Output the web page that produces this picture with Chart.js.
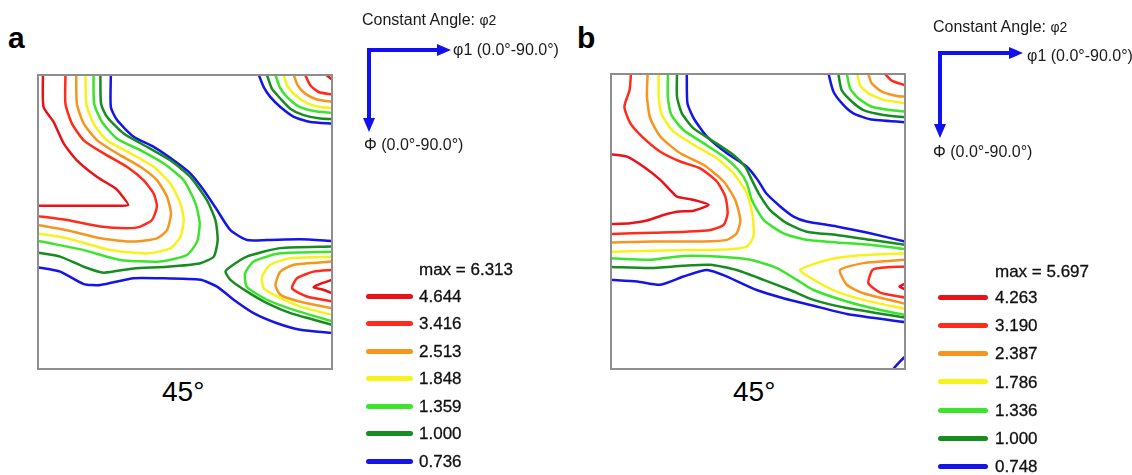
<!DOCTYPE html>
<html lang="en">
<head>
    <meta charset="UTF-8">
    <title>ODF sections - phi2 = 45</title>
    <script src="https://cdn.jsdelivr.net/npm/chart.js"></script>
    <style>
        body { margin: 0; background: #fff; font-family: "Liberation Sans", Arial, sans-serif; color: #111; }
        #page { position: relative; width: 1132px; height: 475px; overflow: hidden; }
        .box { position: absolute; }
        .txt { position: absolute; white-space: nowrap; line-height: 1; }
        .panel-tag { font-size: 30px; font-weight: bold; color: #000; }
        .angle { font-size: 28px; color: #000; }
        .axis-txt { font-size: 16px; color: #1a1a1a; }
        .leg-line { position: absolute; height: 5px; border-radius: 3px; }
        .leg-txt { font-size: 17px; color: #111; -webkit-text-stroke: 0.3px #111; }
        svg { position: absolute; left: 0; top: 0; }
    </style>
</head>
<body>
<div id="page">
    <div class="txt panel-tag" style="left:8px;top:23px;">a</div>
    <div class="txt panel-tag" style="left:577px;top:23px;">b</div>

    <div class="box" style="left:36px;top:73px;width:298px;height:298px;"><canvas id="chartA"></canvas></div>
    <div class="box" style="left:609px;top:72px;width:298px;height:299px;"><canvas id="chartB"></canvas></div>

    <div class="txt angle" style="left:162px;top:378px;">45°</div>
    <div class="txt angle" style="left:733px;top:378px;">45°</div>

    <svg width="1132" height="475">
        <g stroke="#1010f0" stroke-width="4" fill="#1010f0">
            <polyline points="438,50 369,50 369,119" fill="none"/>
            <polygon points="451,50 437,44 437,56" stroke="none"/>
            <polygon points="369,132 363,118 375,118" stroke="none"/>
            <polyline points="1010,53 940,53 940,124" fill="none"/>
            <polygon points="1023,53 1009,47 1009,59" stroke="none"/>
            <polygon points="940,138 934,124 946,124" stroke="none"/>
        </g>
    </svg>

    <div class="txt axis-txt" style="left:362px;top:12px;">Constant Angle: <span style="font-size:14px">φ2</span></div>
    <div class="txt axis-txt" style="left:453px;top:42px;">φ1 (0.0°-90.0°)</div>
    <div class="txt axis-txt" style="left:364px;top:137px;">Φ (0.0°-90.0°)</div>

    <div class="txt axis-txt" style="left:933px;top:19px;">Constant Angle: <span style="font-size:14px">φ2</span></div>
    <div class="txt axis-txt" style="left:1027px;top:48px;">φ1 (0.0°-90.0°)</div>
    <div class="txt axis-txt" style="left:933px;top:144px;">Φ (0.0°-90.0°)</div>

    <div id="legendA"></div>
    <div id="legendB"></div>
</div>

<script>
    // contour levels, highest first
    const levelsA = ['4.644', '3.416', '2.513', '1.848', '1.359', '1.000', '0.736'];
    const maxA = '6.313';
    const levelsB = ['4.263', '3.190', '2.387', '1.786', '1.336', '1.000', '0.748'];
    const maxB = '5.697';

    const levelColors = ['#e81218', '#ff2b1c', '#f7951f', '#f6f21a', '#3de42c', '#178c20', '#1515e8'];

    // ---- panel a : [phi1, PHI] in degrees ----
    const aL0_left = [[1.5,0],[1.7,9.8],[4.8,14.4],[7.9,21],[11.9,26.1],[18.1,31.2],[23.7,34.7],[25.2,36.3],[27.6,39.8],[22.1,40],[0,40]];
    const aL1_left = [[8.4,0],[8.4,8.8],[10.4,14.9],[14,20],[20.1,24],[27.2,28.1],[32.3,32.2],[35.4,36.3],[36.4,40.3],[34.9,44.4],[31.3,46.4],[27.2,46.9],[19.1,46.4],[8.9,44.4],[0,43.2]];
    const aL2_left = [[11.7,0],[11.9,8.8],[14,14.9],[18.1,20],[24.2,24],[31.3,28.1],[36.4,32.2],[39.5,37.3],[40.7,42.4],[39.5,47.5],[36.4,50],[29.3,51],[19.1,50],[8.9,47.5],[0,45.9]];
    const aL3_left = [[14.5,0],[14.8,8.8],[17,14.9],[21.1,20],[28.3,24],[35.4,28.1],[40.5,33.2],[43.6,39.3],[44.6,44.4],[43.6,49.5],[40.5,53.1],[33.4,54.6],[22.1,53.6],[8.9,50],[0,48.5]];
    const aL4_left = [[17,0],[17.2,8.8],[19.6,14.4],[24.2,19.5],[31.3,23],[38.5,27.1],[44.6,32.2],[48.2,39.3],[49.5,45.4],[48.7,51],[45.6,55.1],[37.4,57.1],[25.2,56.6],[14,53.6],[3.8,51.5],[0,50.8]];
    const aL5_left = [[19.1,0],[19.3,8.8],[21.1,12.8],[26.2,17.9],[33.4,22],[40.5,26.1],[46.6,31.2],[51.7,38.3],[54.3,44.4],[55,50.5],[53.8,55.6],[49.7,57.6],[39.5,58.7],[29.3,59.2],[20.1,60.5],[14,58.7],[6.8,55.6],[0,54.4]];
    const aL6_upper = [[22.3,0],[22.3,9.8],[24.2,13.8],[29.3,18.9],[35.4,22],[41.5,26.1],[46.6,30.1],[50.7,35.2],[54.8,41.3],[58.9,47.5],[64,50.5],[70.1,50.5],[80.3,50.3],[90,50.8]];
    const aL6_lower = [[0,58.9],[6.8,60.2],[14,64],[19.1,64.3],[29.3,62.2],[36.4,62.2],[49.7,62.7],[54.8,64.8],[59.9,68.8],[66,72.9],[73.2,76],[80.3,78],[90,79]];

    const aL5_right = [[90,52.5],[74.1,53],[63.9,55.6],[58.9,58.7],[57.4,60.2],[58.9,62.7],[64,66.3],[70.1,69.8],[77.3,72.9],[84.4,74.9],[90,76.5]];
    const aL4_right = [[90,54.1],[74.1,54.6],[66,57.1],[63.4,60.7],[63.9,64.8],[70.1,68.8],[78.3,71.9],[90,75.4]];
    const aL3_right = [[90,55.6],[77.2,56.1],[71.1,58.1],[68.6,61.7],[69.1,65.3],[73.2,67.8],[80.3,70.9],[90,73.4]];
    const aL2_right = [[90,57.1],[78.3,58.1],[74.2,60.2],[72.7,64.3],[74.2,67.3],[80.3,69.4],[90,71.4]];
    const aL1_right = [[90,59.7],[84.4,60.2],[79.3,62.2],[77.8,65.3],[82.3,67.8],[90,69.3]];
    const aL0_right = [[90,62.7],[86.2,64],[84.4,65],[87.5,65.8],[90,66.8]];

    const aL6_corner = [[67.6,0],[69.1,3.7],[71.1,6.7],[74.2,9.8],[78.3,12.8],[83.4,14.4],[90,14.9]];
    const aL5_corner = [[70.1,0],[71.6,4.2],[74.2,7.2],[77.2,10.3],[81.3,12.3],[86.4,13.3],[90,13.5]];
    const aL4_corner = [[72.7,0],[74,3.7],[76.2,6.7],[79.8,9.6],[84.4,11],[90,11.6]];
    const aL3_corner = [[75.2,0],[76.4,3.5],[78.8,6.2],[82.3,8.6],[86.4,9.8],[90,10.1]];
    const aL2_corner = [[78.3,0],[79.5,3.2],[81.8,5.7],[85.4,7.5],[90,8.2]];
    const aL1_corner = [[81.8,0],[83.4,3.2],[85.9,5.2],[90,6]];
    const aL0_corner = [[88.3,0],[90,1.4]];

    // ---- panel b ----
    const bL0_left = [[0,24.5],[4.9,25.2],[10,28.3],[15.1,32.3],[18.1,35.4],[20.2,37.4],[25.3,38.4],[29.9,39.9],[25.3,41.7],[20.2,42],[16.1,43],[11,44.7],[5.9,45.5],[0,45.8]];
    const bL1_left = [[6.1,0],[5.7,4.9],[4.1,10],[5.9,15],[9.5,19.1],[15.1,23.7],[21.2,26.7],[27.3,28.8],[32.4,32.8],[35,37.4],[35.7,42.5],[34.5,46],[30.4,47.6],[23.2,48.1],[13,48.4],[0,48.8]];
    const bL2_left = [[11.2,0],[11,6.9],[12,13.5],[15.1,19.1],[21.2,24.2],[28.3,27.7],[34.5,32.8],[38,38.4],[39.6,44.5],[38.5,48.6],[35.5,50.6],[28.3,51.1],[13,51.1],[0,51.4]];
    const bL3_left = [[14.6,0],[14.6,6.9],[15.6,12.5],[19.2,17.6],[25.3,21.6],[32.4,25.7],[37.5,30.3],[41.6,36.4],[43.4,43.5],[43.6,49.6],[41.6,52.6],[36.5,53.5],[26.3,53.7],[13,53.9],[0,54.2]];
    const bL4_upper = [[17.4,0],[17.4,6.9],[18.5,12.5],[22.2,17.1],[28.3,21.1],[34.5,25.2],[39,29.3],[41.6,33.3],[43.1,38.4],[46.7,44.5],[52.8,48.6],[59.9,50.6],[69.1,51.4],[79.3,52.1],[90,53.4]];
    const bL5_upper = [[20.2,0],[20.2,6.9],[21.7,12],[25.3,16.6],[31.4,20.6],[37.5,24.7],[41.1,28.3],[43.1,32.3],[45.2,36.4],[48.7,41.5],[53.8,45.5],[59.9,48.1],[69.1,49.1],[79.3,50.6],[90,52.1]];
    const bL6_upper = [[23.2,0],[23.4,8.9],[25.3,13.5],[29.4,19.1],[35.5,24.2],[41.6,28.3],[44.9,32.3],[47.5,36.4],[51.8,40.4],[55.9,43.5],[59.9,45],[69.1,46.5],[79.3,48.6],[90,51.1]];
    const bL4_lower = [[0,56.2],[12,56.7],[22.2,55.5],[32.4,55.7],[42.6,56.7],[50.8,59.2],[56.9,62.8],[62,65.9],[72.2,69.4],[82.4,72],[90,73.5]];
    const bL5_lower = [[0,58.9],[12,59.2],[22.2,58.5],[30.4,58.2],[38.5,59.8],[46.7,62.8],[54.8,65.9],[62,68.9],[72.2,71.4],[90,74.3]];
    const bL6_lower = [[0,62.8],[8,63.3],[15.1,64.3],[22.2,61.8],[29.4,59.8],[35.5,61.8],[44.6,65.9],[52.8,68.4],[62,70.7],[72.2,73.2],[90,75.7]];

    const bL3_right = [[90,54.7],[77.3,55.2],[67.1,56.5],[57.9,59.8],[63,63.3],[69.1,66.4],[77.3,68.9],[90,71.7]];
    const bL2_right = [[90,56.7],[77.3,57.7],[70.1,59.8],[72.2,64.3],[77.3,66.9],[90,70.1]];
    const bL1_right = [[90,58.7],[80.3,59.6],[78.8,63.8],[82.4,66.7],[90,68.2]];
    const bL0_right = [[90,64],[88.3,64.8],[90,65.7]];
    const bL6_bottom = [[86.4,90],[88.5,87.7],[90,86.2]];

    const bL6_corner = [[66.6,0],[68.1,5.4],[71.2,9.5],[74.2,12],[79.3,13.8],[90,14.7]];
    const bL5_corner = [[69.6,0],[70.6,4.9],[73.7,8.4],[77.3,11],[83.4,12.5],[90,13.2]];
    const bL4_corner = [[72.2,0],[73.2,4.4],[75.7,7.4],[79.8,10],[85.4,11],[90,11.5]];
    const bL3_corner = [[75.4,0],[76.2,3.4],[78.8,5.9],[83.4,7.9],[90,8.9]];
    const bL2_corner = [[78.8,0],[79.8,2.8],[82.9,5.4],[87.5,6.7],[90,6.9]];
    const bL1_corner = [[83.9,0],[85.9,2],[90,3.4]];

    // [level index, points]
    const segmentsA = [
        [0, aL0_left], [1, aL1_left], [2, aL2_left], [3, aL3_left], [4, aL4_left], [5, aL5_left],
        [6, aL6_upper], [6, aL6_lower],
        [5, aL5_right], [4, aL4_right], [3, aL3_right], [2, aL2_right], [1, aL1_right], [0, aL0_right],
        [6, aL6_corner], [5, aL5_corner], [4, aL4_corner], [3, aL3_corner], [2, aL2_corner], [1, aL1_corner], [0, aL0_corner]
    ];
    const segmentsB = [
        [0, bL0_left], [1, bL1_left], [2, bL2_left], [3, bL3_left],
        [4, bL4_upper], [5, bL5_upper], [6, bL6_upper],
        [4, bL4_lower], [5, bL5_lower], [6, bL6_lower],
        [3, bL3_right], [2, bL2_right], [1, bL1_right], [0, bL0_right], [6, bL6_bottom],
        [6, bL6_corner], [5, bL5_corner], [4, bL4_corner], [3, bL3_corner], [2, bL2_corner], [1, bL1_corner]
    ];

    const framePlugin = {
        id: 'frame',
        afterDatasetsDraw(chart) {
            const a = chart.chartArea;
            const ctx = chart.ctx;
            ctx.save();
            ctx.strokeStyle = '#8e8e8e';
            ctx.lineWidth = 2;
            ctx.strokeRect(a.left, a.top, a.right - a.left, a.bottom - a.top);
            ctx.restore();
        }
    };

    function buildDatasets(segments, levels) {
        return segments.map(([lvl, pts]) => ({
            label: levels[lvl],
            data: pts.map(p => ({ x: p[0], y: p[1] })),
            showLine: true,
            borderColor: levelColors[lvl],
            borderWidth: 2.5,
            pointRadius: 0,
            tension: 0.2,
            fill: false
        }));
    }

    function makeChart(id, segments, levels) {
        new Chart(document.getElementById(id), {
            type: 'scatter',
            data: { datasets: buildDatasets(segments, levels) },
            options: {
                responsive: true,
                maintainAspectRatio: false,
                animation: false,
                events: [],
                layout: { padding: 2 },
                plugins: { legend: { display: false }, tooltip: { enabled: false } },
                scales: {
                    x: { type: 'linear', min: 0, max: 90, display: false },
                    y: { type: 'linear', min: 0, max: 90, reverse: true, display: false }
                }
            },
            plugins: [framePlugin]
        });
    }

    function buildLegend(id, levels, maxVal, lineLeft, lineWidth, textLeft, maxTop, rowTop, rowStep) {
        const host = document.getElementById(id);
        let html = `<div class="txt leg-txt" style="left:${textLeft}px;top:${maxTop}px;">max = ${maxVal}</div>`;
        levels.forEach((lv, i) => {
            const cy = rowTop + i * rowStep;
            html += `<div class="leg-line" style="left:${lineLeft}px;top:${cy - 2.5}px;width:${lineWidth}px;background:${levelColors[i]};"></div>`;
            html += `<div class="txt leg-txt" style="left:${textLeft}px;top:${cy - 8.4}px;">${lv}</div>`;
        });
        host.innerHTML = html;
    }

    document.addEventListener('DOMContentLoaded', () => {
        makeChart('chartA', segmentsA, levelsA);
        makeChart('chartB', segmentsB, levelsB);
        buildLegend('legendA', levelsA, maxA, 366, 47, 419, 261, 296, 27.5);
        buildLegend('legendB', levelsB, maxB, 938, 50, 995, 263, 297, 28.3);
    });
</script>
</body>
</html>
